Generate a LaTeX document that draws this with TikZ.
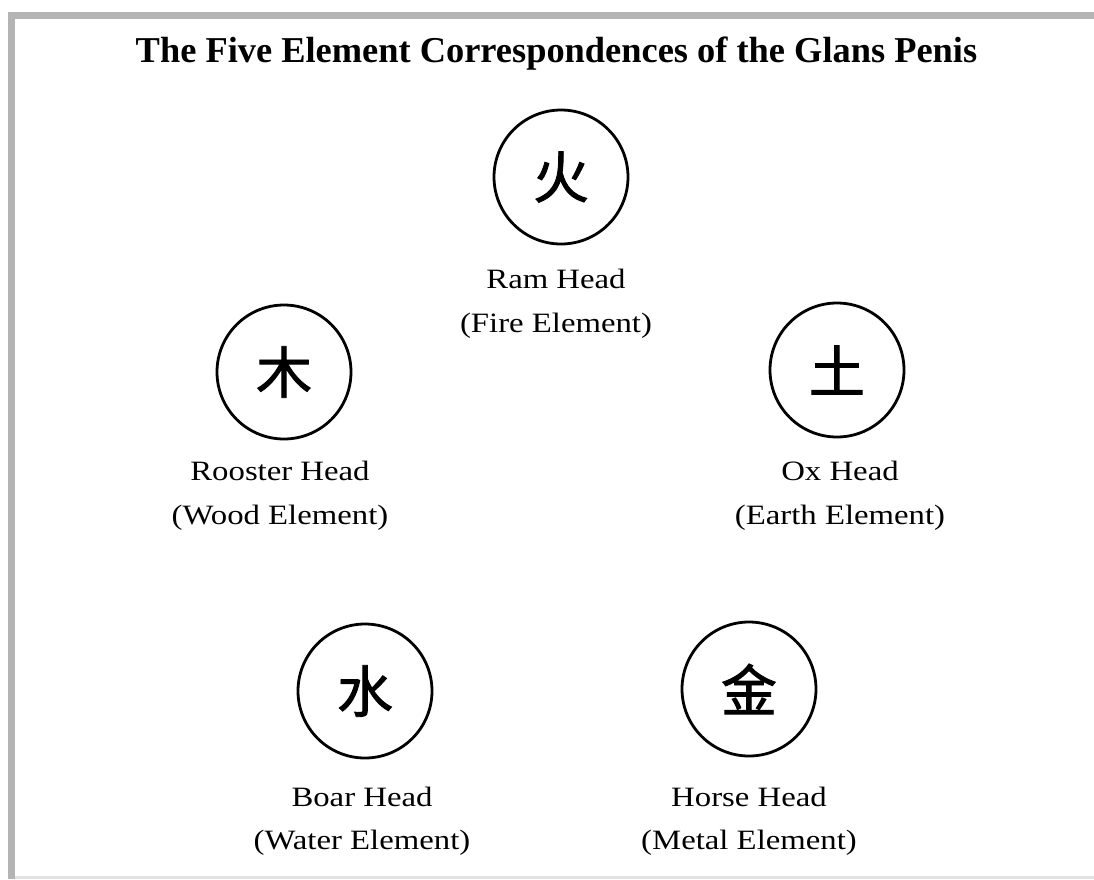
\documentclass[tikz,border=0pt]{standalone}
\usepackage{fontspec}
\setmainfont{Liberation Serif}
\newfontfamily\labelfont[FakeStretch=1.17]{Liberation Serif}
\newfontfamily\titlefont{Liberation Serif}
\newfontfamily\cjk[FakeBold=1.5]{Noto Sans CJK SC}
\definecolor{framegray}{HTML}{B4B4B4}
\definecolor{bottomgray}{HTML}{E2E2E2}
\begin{document}
\begin{tikzpicture}[x=1pt,y=-1pt,
  elem/.style={circle,draw=black,line width=2.8pt,minimum size=134pt,inner sep=0pt,
    font=\cjk\fontsize{56}{56}\selectfont},
  lab/.style={anchor=base,inner sep=0pt,font=\labelfont\fontsize{28}{28}\selectfont}]
\useasboundingbox (0,0) rectangle (1094,879);
\fill[white] (0,0) rectangle (1094,879);
% frame
\fill[framegray] (8,12) rectangle (1094,19);
\fill[framegray] (8,12) rectangle (15,879);
\fill[bottomgray] (15,876) rectangle (1094,879);
% title
\node[anchor=base,inner sep=0pt,font=\titlefont\bfseries\fontsize{36.4}{36.4}\selectfont] (title) at (556.5,62) {The Five Element Correspondences of the Glans Penis};
% circles
\node[elem] (fire) at (561,177) {火};
\node[elem] (wood) at (284,372) {木};
\node[elem] (earth) at (837,370) {土};
\node[elem] (water) at (365,691) {水};
\node[elem] (metal) at (749,689) {金};
% labels
\node[lab] (fireA) at (556,288) {Ram Head};
\node[lab] (fireB) at (556,332) {(Fire Element)};
\node[lab] (woodA) at (280,480) {Rooster Head};
\node[lab] (woodB) at (280,524) {(Wood Element)};
\node[lab] (earthA) at (840,480) {Ox Head};
\node[lab] (earthB) at (840,524) {(Earth Element)};
\node[lab] (waterA) at (362,806) {Boar Head};
\node[lab] (waterB) at (362,849) {(Water Element)};
\node[lab] (metalA) at (749,806) {Horse Head};
\node[lab] (metalB) at (749,849) {(Metal Element)};
\end{tikzpicture}
\end{document}
